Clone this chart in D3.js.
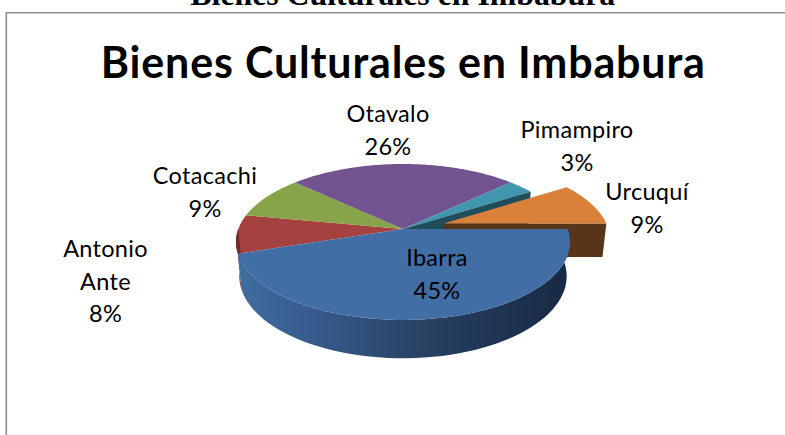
<!DOCTYPE html>
<html><head><meta charset="utf-8">
<script src="https://cdn.jsdelivr.net/npm/d3@7"></script>
<style>html,body{margin:0;padding:0;background:#fff;overflow:hidden}svg{display:block}</style>
</head><body><svg id="c" width="785" height="435"></svg>
<script>
const chartTitle = "Bienes Culturales en Imbabura";
const categories = ["Ibarra", "Antonio Ante", "Cotacachi", "Otavalo", "Pimampiro", "Urcuquí"];
const percentages = [45, 8, 9, 26, 3, 9];
const topColors = ["#426ea6", "#a54240", "#88a44b", "#715390", "#4096af", "#d9803a"];
const explosion = [0, 0, 0, 0, 0, 0.26];
const labelLines = [["Ibarra"], ["Antonio", "Ante"], ["Cotacachi"], ["Otavalo"], ["Pimampiro"], ["Urcuquí"]];
const labelX = [437, 105.5, 205, 388, 577, 647];
const labelBaseY = [266, 257, 184, 122, 138, 200];

const svg = d3.select("#c");
const cx = 403, cy = 229, R = 164.7, S = 75.8, K = 1 / 6, T = 34.5, M = 0.02;
// Perspective projection of the pie's plane (u right, v toward viewer, w down)
const proj = (u, v, w) => {
  const d = 1 - K * v + M * w;
  return [cx + R * u / d, cy + (S * v + T * w) / d];
};
const rad = d3.scaleLinear().domain([0, 360]).range([0, 2 * Math.PI]);
const pie = d3.pie().sort(null).startAngle(rad(90)).endAngle(rad(450));
const arcs = pie(percentages);
const line = d3.line();

const off = (d, i) => {
  const mid = (d.startAngle + d.endAngle) / 2;
  return [explosion[i] * Math.sin(mid), -explosion[i] * Math.cos(mid)];
};
const rim = (a0, a1, o, w) => d3.range(0, 61).map(k => {
  const a = a0 + (a1 - a0) * k / 60;
  return proj(o[0] + Math.sin(a), o[1] - Math.cos(a), w);
});
const wedge = (d, i) => {
  const o = off(d, i);
  return line([proj(o[0], o[1], 0), ...rim(d.startAngle, d.endAngle, o, 0)]) + "Z";
};
const cut = (a, o) => line([proj(o[0], o[1], 0), proj(o[0] + Math.sin(a), o[1] - Math.cos(a), 0),
  proj(o[0] + Math.sin(a), o[1] - Math.cos(a), 1), proj(o[0], o[1], 1)]) + "Z";

// gradient for the rim
const defs = svg.append("defs");
const g = defs.append("linearGradient").attr("id", "rimBlue")
  .attr("gradientUnits", "userSpaceOnUse").attr("x1", 238).attr("x2", 570).attr("y1", 0).attr("y2", 0);
[[0, "#406d9f"], [0.25, "#36598a"], [0.5, "#2a4669"], [0.75, "#1f3654"], [1, "#182a44"]]
  .forEach(s => g.append("stop").attr("offset", s[0]).attr("stop-color", s[1]));

// Frame and document heading
svg.append("path").attr("d", line([[6.3, 435], [6.3, 12.8], [785, 12.8]]))
  .attr("fill", "none").attr("stroke", "#8c8c8c").attr("stroke-width", 1.6);
svg.append("text").text(chartTitle).attr("x", 402.8).attr("y", 5)
  .attr("text-anchor", "middle").attr("font-family", "Liberation Serif").attr("font-weight", "bold")
  .attr("font-size", 31.8).attr("fill", "#000");
svg.append("text").text(chartTitle).attr("x", 402.8).attr("y", 78)
  .attr("text-anchor", "middle").attr("font-family", "Lato").attr("font-weight", "bold")
  .attr("font-size", 43).attr("textLength", 604).attr("lengthAdjust", "spacing").attr("fill", "#000");

// Back slices
[1, 2, 3, 4].forEach(i => {
  svg.append("path").attr("d", wedge(arcs[i], i)).attr("fill", topColors[i]);
});
// Rim of the red slice at the far left
svg.append("path").attr("d", line([...rim(arcs[1].startAngle, rad(270), [0, 0], 0),
  ...rim(arcs[1].startAngle, rad(270), [0, 0], 1).reverse()]) + "Z").attr("fill", "#6e2c2b");
// Pimampiro's exposed cut face
svg.append("path").attr("d", cut(arcs[4].endAngle, [0, 0])).attr("fill", "#1f4e5a");
// Exploded Urcuquí slice
const oU = off(arcs[5], 5);
svg.append("path").attr("d", cut(arcs[5].endAngle, oU)).attr("fill", "#58341a");
svg.append("path").attr("d", wedge(arcs[5], 5)).attr("fill", topColors[5]);
// Ibarra rim and top
svg.append("path").attr("d", line([...rim(arcs[0].startAngle, arcs[0].endAngle, [0, 0], 0),
  ...rim(arcs[0].startAngle, arcs[0].endAngle, [0, 0], 1).reverse()]) + "Z").attr("fill", "url(#rimBlue)");
svg.append("path").attr("d", wedge(arcs[0], 0)).attr("fill", topColors[0]);

// Labels
categories.forEach((c, i) => {
  const lines = [...labelLines[i], percentages[i] + "%"];
  const t = svg.append("text").attr("text-anchor", "middle").attr("font-family", "Lato")
    .attr("font-size", 23.5).attr("letter-spacing", 0.3).attr("fill", "#000");
  lines.forEach((s, j) => t.append("tspan").attr("x", labelX[i]).attr("y", labelBaseY[i] + j * 32.7).text(s));
});
</script></body></html>
